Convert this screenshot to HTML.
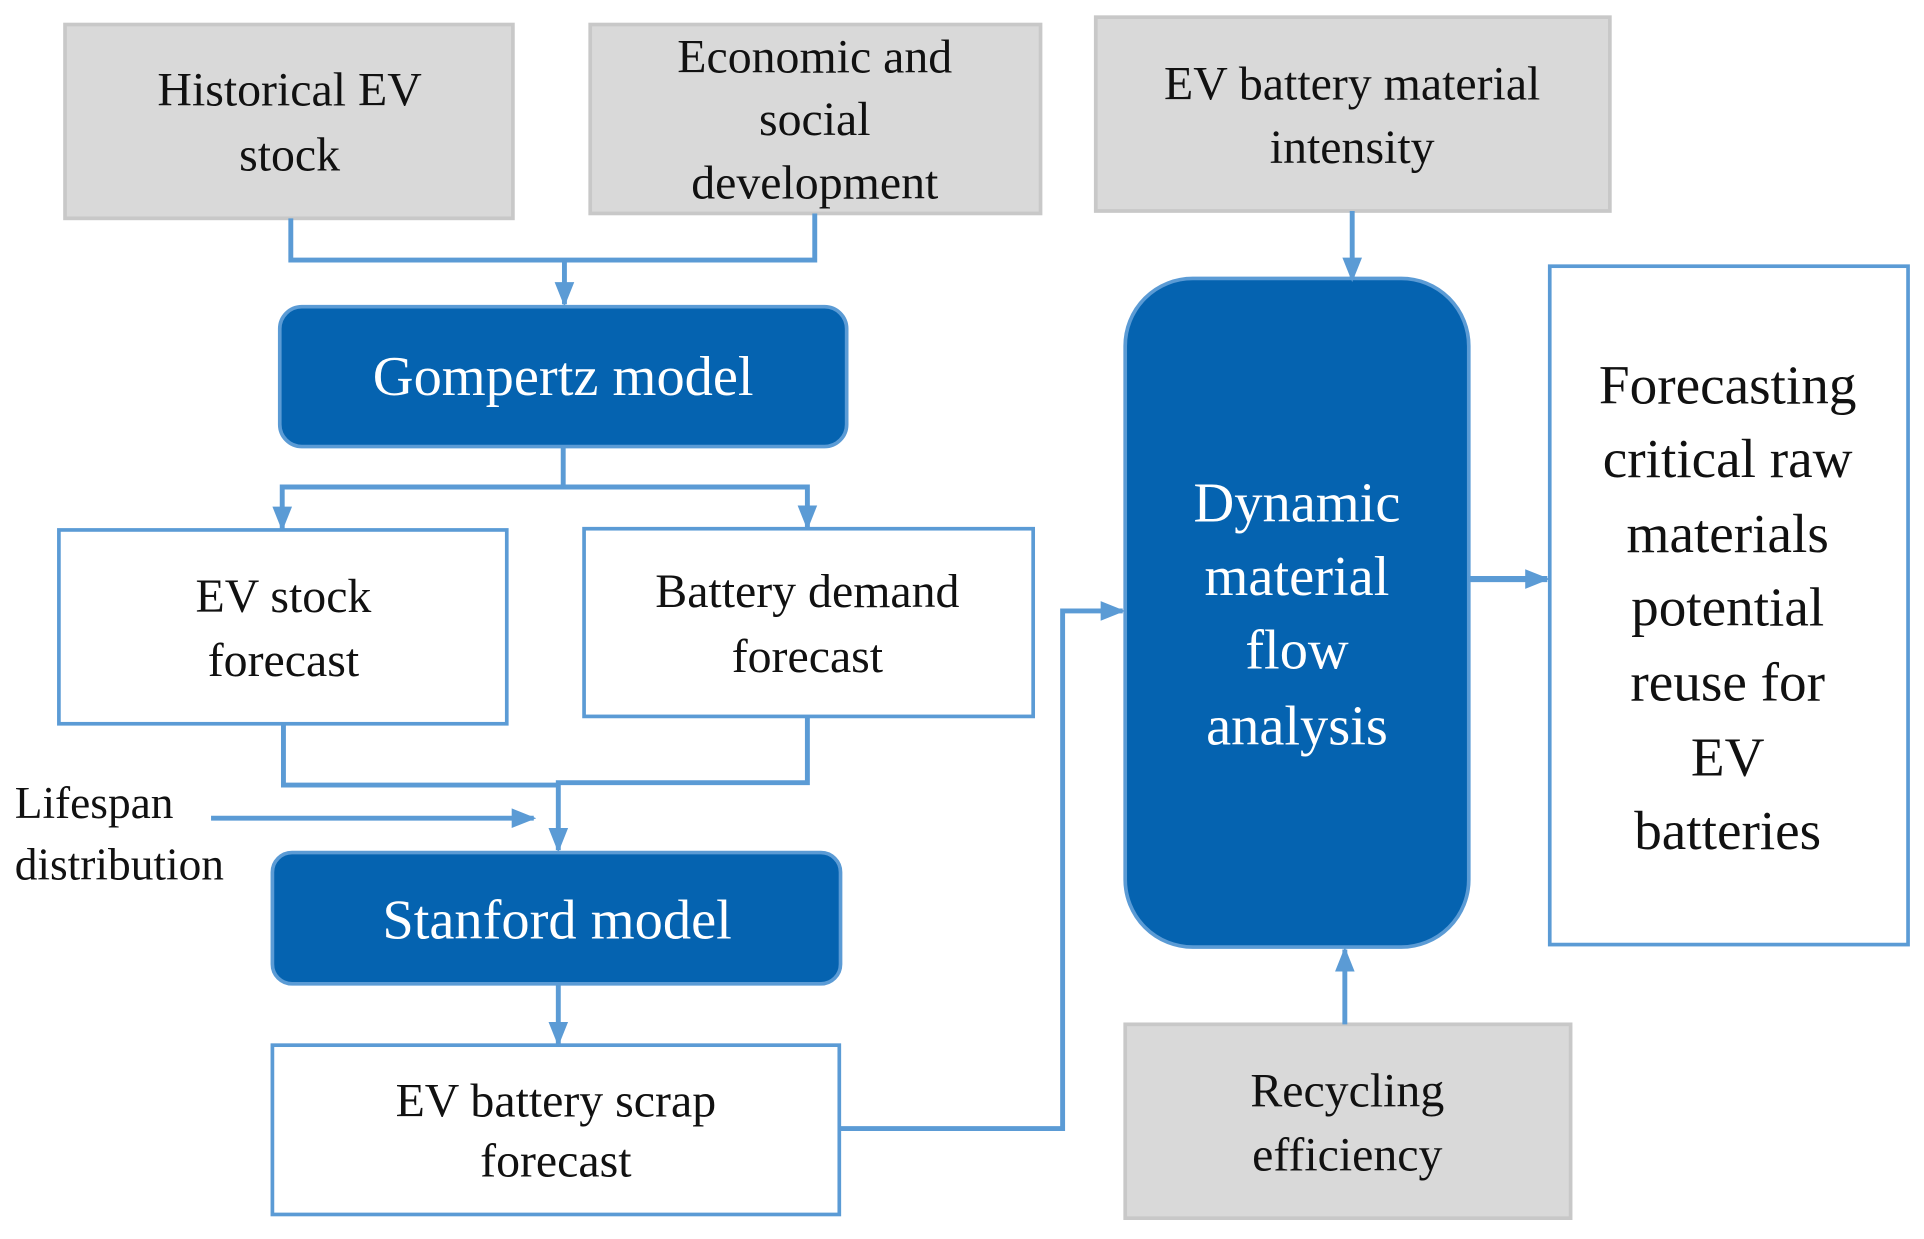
<!DOCTYPE html>
<html><head><meta charset="utf-8"><style>html,body{margin:0;padding:0;background:#fff;}svg{display:block}svg text{font-family:"Liberation Serif","DejaVu Serif",serif;}</style></head>
<body>
<svg width="1924" height="1239" viewBox="0 0 1568 1010" preserveAspectRatio="none" xmlns="http://www.w3.org/2000/svg">
<defs>
<marker id="b" markerWidth="20" markerHeight="20" refX="18" refY="10" orient="auto" markerUnits="userSpaceOnUse" viewBox="0 0 20 20"><path d="M0,2 L20,10 L0,18 z" fill="#5b9bd5"/></marker>
</defs>
<g fill="#d9d9d9" stroke="#c8c8c8" stroke-width="3">
<rect x="53" y="20" width="365" height="158"/>
<rect x="481" y="20" width="367" height="154"/>
<rect x="893" y="14" width="419" height="158"/>
<rect x="917" y="835" width="363" height="158"/>
</g>
<g fill="#fff" stroke="#5b9bd5" stroke-width="3">
<rect x="48" y="432" width="365" height="158"/>
<rect x="476" y="431" width="366" height="153"/>
<rect x="222" y="852" width="462" height="138"/>
<rect x="1263" y="217" width="292" height="553"/>
</g>
<g fill="#0563b0" stroke="#5b9bd5" stroke-width="3">
<rect x="228" y="250" width="462" height="114" rx="18"/>
<rect x="222" y="695" width="463" height="107" rx="16"/>
<rect x="917" y="227" width="280" height="545" rx="55"/>
</g>
<g fill="none" stroke="#5b9bd5" stroke-width="4">
<path d="M237,178 V212 H664 V174"/>
<path d="M460,212 V248" marker-end="url(#b)"/>
<path d="M459,364 V397 H230 V431" marker-end="url(#b)"/>
<path d="M459,397 H658 V430" marker-end="url(#b)"/>
<path d="M231,590 V640 H455"/>
<path d="M658,584 V638 H455 V693" marker-end="url(#b)"/>
<path d="M172,667 H435" marker-end="url(#b)"/>
<path d="M455,802 V851" marker-end="url(#b)"/>
<path d="M684,920 H866 V498 H915" marker-end="url(#b)"/>
<path d="M1102,172 V228" marker-end="url(#b)"/>
<path d="M1096,835 V774" marker-end="url(#b)"/>
<path d="M1197,472 H1261" stroke-width="5" marker-end="url(#b)"/>
</g>
<g font-size="39" fill="#111" text-anchor="middle">
<text x="236" y="86">Historical EV</text>
<text x="236" y="139">stock</text>
<text x="664" y="59">Economic and</text>
<text x="664" y="110">social</text>
<text x="664" y="162">development</text>
<text x="1102" y="81">EV battery material</text>
<text x="1102" y="133">intensity</text>
<text x="231" y="499">EV stock</text>
<text x="231" y="551">forecast</text>
<text x="658" y="495">Battery demand</text>
<text x="658" y="548">forecast</text>
<text x="453" y="910">EV battery scrap</text>
<text x="453" y="959">forecast</text>
<text x="1098" y="902">Recycling</text>
<text x="1098" y="954">efficiency</text>
</g>
<g font-size="37" fill="#111">
<text x="12" y="667">Lifespan</text>
<text x="12" y="717">distribution</text>
</g>
<g font-size="46" fill="#fff" text-anchor="middle">
<text x="459" y="322">Gompertz model</text>
<text x="454" y="765">Stanford model</text>
<text x="1057" y="425">Dynamic</text>
<text x="1057" y="485">material</text>
<text x="1057" y="545">flow</text>
<text x="1057" y="607">analysis</text>
</g>
<g font-size="45" fill="#111" text-anchor="middle">
<text x="1408" y="329">Forecasting</text>
<text x="1408" y="389">critical raw</text>
<text x="1408" y="450">materials</text>
<text x="1408" y="510">potential</text>
<text x="1408" y="571">reuse for</text>
<text x="1408" y="632">EV</text>
<text x="1408" y="692">batteries</text>
</g>
</svg>
</body></html>
